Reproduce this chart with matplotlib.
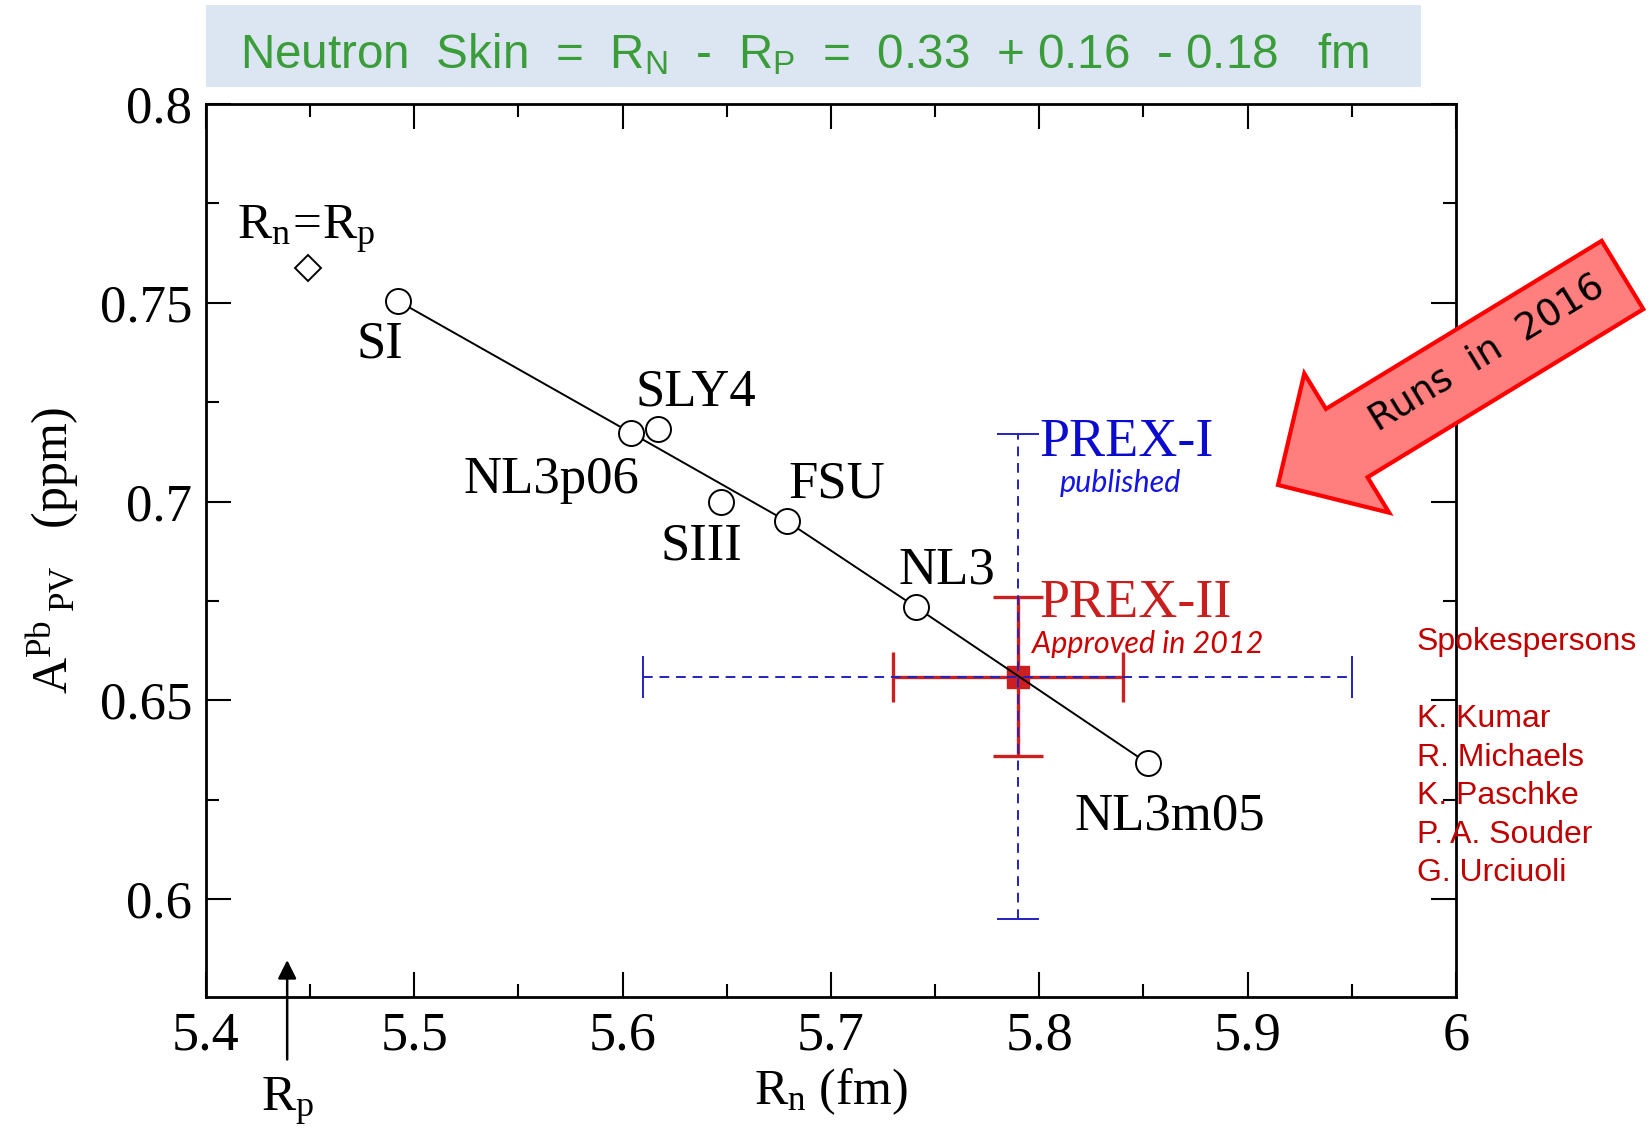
import matplotlib
matplotlib.use("Agg")
import matplotlib.pyplot as plt
from matplotlib import font_manager
from matplotlib.patches import FancyArrow, Rectangle
from matplotlib.ticker import MultipleLocator, FuncFormatter

# model predictions: R_n (fm) vs parity-violating asymmetry A_PV (ppm)
model_names = ["SI", "NL3p06", "SLY4", "SIII", "FSU", "NL3", "NL3m05"]
model_rn = [5.492, 5.604, 5.617, 5.647, 5.679, 5.741, 5.852]
model_apv = [0.7505, 0.7173, 0.7183, 0.700, 0.695, 0.6734, 0.6342]

# line drawn through the models
line_rn = [5.492, 5.604, 5.679, 5.741, 5.852]
line_apv = [0.7505, 0.7173, 0.695, 0.6734, 0.6342]

# R_n = R_p point and proton radius
rnrp_rn = [5.449]
rnrp_apv = [0.7588]
rp_value = 5.439

# PREX-I (published) and PREX-II (projected)
prex_rn = [5.79]
prex_apv = [0.656]
prex1_rn_err = [[0.18], [0.16]]
prex1_apv_err = [[0.061], [0.061]]
prex2_rn_err = [[0.06], [0.05]]
prex2_apv_err = [[0.02], [0.02]]

spokespersons = ["K. Kumar", "R. Michaels", "K. Paschke", "P. A. Souder", "G. Urciuoli"]

serif = "Liberation Serif"
names = {f.name for f in font_manager.fontManager.ttflist}
title_font = "Liberation Sans Narrow" if "Liberation Sans Narrow" in names else "Liberation Sans"

plt.rcParams["font.family"] = serif
plt.rcParams["mathtext.fontset"] = "custom"
plt.rcParams["mathtext.rm"] = serif
plt.rcParams["mathtext.it"] = serif + ":italic"

fig = plt.figure(figsize=(16.5, 11.4), dpi=100)
ax = fig.add_axes([0.1248, 0.1254, 0.7576, 0.7834])

blue = "#2323c0"
red = "#cc2020"

# models
ax.plot(line_rn, line_apv, color="black", lw=1.4, zorder=3.5)
ax.plot(model_rn, model_apv, linestyle="none", marker="o", ms=18,
        mfc="white", mec="black", mew=1.4, zorder=4)
ax.plot(rnrp_rn, rnrp_apv, linestyle="none", marker="D", ms=13,
        mfc="white", mec="black", mew=1.4, zorder=4)

# offsets of the model labels in points (baseline centre)
offsets = {"SI": (-13, -41), "NL3p06": (-57, -43), "SLY4": (27, 17), "SIII": (-14, -42),
           "FSU": (36, 17), "NL3": (22, 17), "NL3m05": (16, -48)}
for name, x, y in zip(model_names, model_rn, model_apv):
    ax.annotate(name, (x, y), xytext=offsets[name], textcoords="offset points",
                ha="center", va="baseline", fontsize=38, zorder=5)

ax.annotate(r"$\mathregular{R_n\!=\!R_p}$", (rnrp_rn[0], rnrp_apv[0]), xytext=(-51, 21),
            textcoords="offset points", ha="left", va="baseline", fontsize=37)

# PREX-II (red, thick)
ax.errorbar(prex_rn, prex_apv, xerr=prex2_rn_err, yerr=prex2_apv_err,
            fmt="s", color=red, ms=16, elinewidth=2.4, capsize=18, capthick=2.4,
            zorder=3)

# PREX-I (blue, dashed)
eb1 = ax.errorbar(prex_rn, prex_apv, xerr=prex1_rn_err, yerr=prex1_apv_err,
                  fmt="none", ecolor=blue, elinewidth=1.4, capsize=15, capthick=1.4,
                  zorder=6)
for coll in eb1[2]:
    coll.set_linestyle((0, (5, 3.5)))

ax.annotate("PREX-I", (prex_rn[0], prex_apv[0]), xytext=(15, 159), textcoords="offset points",
            ha="left", va="baseline", fontsize=39, color="#0b0bd0")
ax.annotate("published", (prex_rn[0], prex_apv[0]), xytext=(30, 133), textcoords="offset points",
            ha="left", va="baseline", fontsize=22, color="#1414e6",
            family="Lato", style="italic")
ax.annotate("PREX-II", (prex_rn[0], prex_apv[0]), xytext=(15, 43), textcoords="offset points",
            ha="left", va="baseline", fontsize=39, color="#c81e1e")
ax.annotate("Approved in 2012", (prex_rn[0], prex_apv[0]), xytext=(10, 17),
            textcoords="offset points", ha="left", va="baseline", fontsize=22,
            color="#cc0000", family="Lato", style="italic")

# proton radius arrow
ax.annotate("", xy=(rp_value, 0.5854), xytext=(rp_value, 0.559),
            arrowprops=dict(arrowstyle="-|>", color="black", lw=1.8, mutation_scale=28),
            annotation_clip=False)
ax.annotate(r"$\mathregular{R_p}$", (rp_value, 0.559), xytext=(0, -35),
            textcoords="offset points", ha="center", va="baseline", fontsize=37,
            annotation_clip=False)

# axes
ax.set_xlim(5.4, 6.0)
ax.set_ylim(0.5754, 0.8)
ax.xaxis.set_major_locator(MultipleLocator(0.1))
ax.xaxis.set_minor_locator(MultipleLocator(0.05))
ax.yaxis.set_major_locator(MultipleLocator(0.05))
ax.yaxis.set_minor_locator(MultipleLocator(0.025))
fmt = FuncFormatter(lambda v, p: "%g" % round(v, 3))
ax.xaxis.set_major_formatter(fmt)
ax.yaxis.set_major_formatter(fmt)
ax.tick_params(which="both", direction="in", top=True, right=True, width=1.5)
ax.tick_params(which="major", length=18, pad=10)
ax.tick_params(which="minor", length=9.5)
ax.tick_params(axis="x", labelsize=39)
ax.tick_params(axis="y", labelsize=38)
for s in ax.spines.values():
    s.set_linewidth(2)

ax.set_xlabel(r"$\mathregular{R_n}$ (fm)", fontsize=36, va="top")
ax.xaxis.set_label_coords(0.5, -0.078)
ax.set_ylabel(r"$\mathregular{A^{Pb}{}_{\;PV}}$   (ppm)", fontsize=36)
ax.yaxis.set_label_coords(-0.1, 0.5)

# title box
fig.add_artist(Rectangle((206 / 1650, 1 - 87 / 1140), 1215 / 1650, 82 / 1140,
                         transform=fig.transFigure, facecolor="#dce6f2",
                         edgecolor="none", zorder=0))
fig.text(240 / 1650, 1 - 68 / 1140,
         r"Neutron  Skin  =  R$_\mathregular{N}$  -  R$_\mathregular{P}$  =  0.33  + 0.16  - 0.18   fm",
         ha="left", va="baseline", fontsize=34.3, color="#3a9d3a", family=title_font)

# "Runs in 2016" arrow
arrow = FancyArrow(16.225, 8.65, -3.445, -2.10, width=0.80, head_width=1.63,
                   head_length=0.805, length_includes_head=True,
                   transform=fig.dpi_scale_trans, facecolor="#ff7f7f",
                   edgecolor="#ff0000", linewidth=3, zorder=10)
fig.add_artist(arrow)
fig.text(1487 / 1650, 1 - 353 / 1140, "Runs  in  2016", rotation=31.4,
         rotation_mode="anchor", ha="center", va="center", fontsize=27,
         family="DejaVu Sans", color="black", zorder=11)

# spokespersons
fig.text(1417 / 1650, 1 - 627 / 1140, "Spokespersons\n\n" + "\n".join(spokespersons),
         ha="left", va="top", fontsize=23, color="#c00000",
         family="Liberation Sans", linespacing=1.37)

fig.savefig("out.png", dpi=100)
